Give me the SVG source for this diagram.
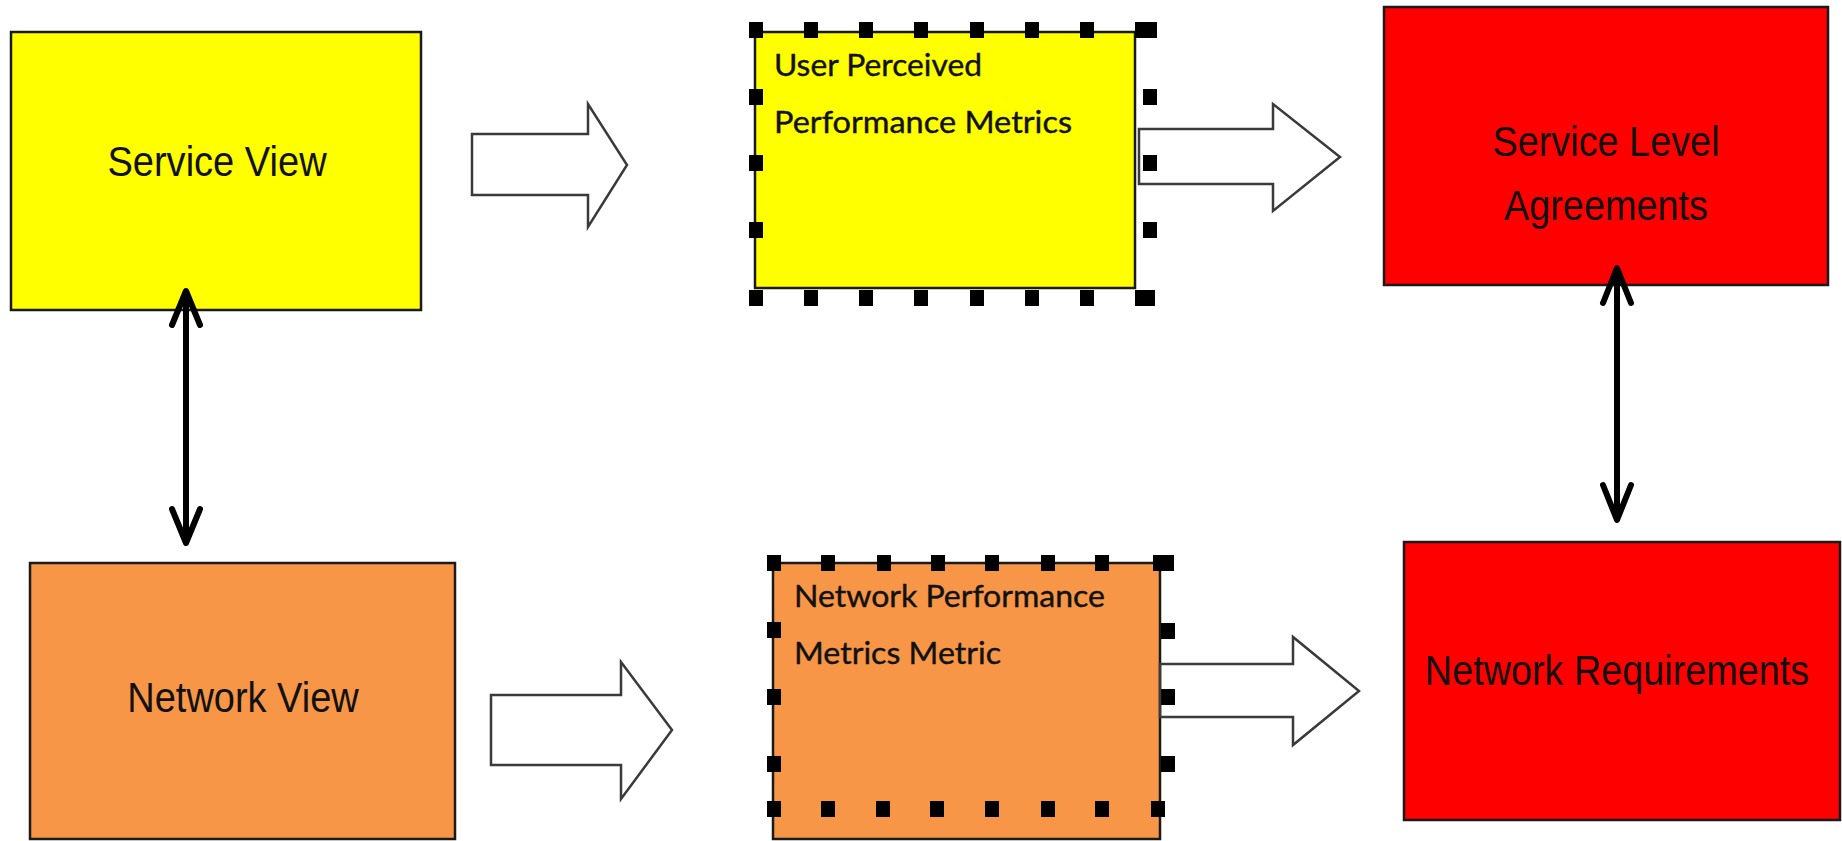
<svg xmlns="http://www.w3.org/2000/svg" width="1842" height="841" viewBox="0 0 1842 841">
  <style>
    .box { stroke: #1a1a1a; stroke-width: 2.5; }
    .yellow { fill: #ffff00; }
    .orange { fill: #f79646; }
    .red { fill: #ff0000; }
    .label { font-family: "Liberation Sans", Arial, sans-serif; font-size: 43px; fill: #111; text-anchor: middle; }
    .note { font-family: Lato, "Open Sans", sans-serif; font-size: 31px; fill: #111; stroke: #111; stroke-width: 0.4; }
    .handle { fill: #000; }
    .block { fill: none; stroke: #3a3a3a; stroke-width: 2.5; stroke-linejoin: miter; }
    .link { fill: none; stroke: #000; stroke-width: 6; stroke-linecap: round; stroke-linejoin: round; }
  </style>
  <defs>
    <rect id="h" class="handle" x="-7" y="-8" width="14" height="16"/>
  </defs>
  <rect width="1842" height="841" fill="#fff"/>

  <g id="service-view">
    <rect class="box yellow" x="11" y="32" width="410" height="278"/>
    <text class="label" transform="translate(217,176) scale(0.885,1)">Service View</text>
  </g>

  <g id="user-perceived-metrics">
    <rect class="box yellow" x="755" y="32" width="380" height="256"/>
    <text class="note" x="774" y="76" textLength="208" lengthAdjust="spacingAndGlyphs">User Perceived</text>
    <text class="note" x="774" y="133" textLength="298" lengthAdjust="spacingAndGlyphs">Performance Metrics</text>
    <g id="user-perceived-handles">
      <use href="#h" x="756" y="30"/><use href="#h" x="811" y="30"/><use href="#h" x="866" y="30"/><use href="#h" x="921" y="30"/>
      <use href="#h" x="977" y="30"/><use href="#h" x="1032" y="30"/><use href="#h" x="1087" y="30"/>
      <use href="#h" x="1142" y="30"/><use href="#h" x="1150" y="30"/>
      <use href="#h" x="756" y="97"/><use href="#h" x="756" y="163"/><use href="#h" x="756" y="230"/>
      <use href="#h" x="1150" y="97"/><use href="#h" x="1150" y="163"/><use href="#h" x="1150" y="230"/>
      <use href="#h" x="756" y="298"/><use href="#h" x="811" y="298"/><use href="#h" x="866" y="298"/><use href="#h" x="921" y="298"/>
      <use href="#h" x="977" y="298"/><use href="#h" x="1032" y="298"/><use href="#h" x="1087" y="298"/>
      <use href="#h" x="1142" y="298"/><use href="#h" x="1148" y="298"/>
    </g>
  </g>

  <g id="service-level-agreements">
    <rect class="box red" x="1384" y="7" width="444" height="278"/>
    <text class="label" transform="translate(1606,156) scale(0.88,1)">Service Level</text>
    <text class="label" transform="translate(1606,220) scale(0.88,1)">Agreements</text>
  </g>

  <g id="network-view">
    <rect class="box orange" x="30" y="563" width="425" height="276"/>
    <text class="label" transform="translate(243,712) scale(0.883,1)">Network View</text>
  </g>

  <g id="network-performance-metrics">
    <rect class="box orange" x="773" y="563" width="387" height="276"/>
    <text class="note" x="794" y="607" textLength="311" lengthAdjust="spacingAndGlyphs">Network Performance</text>
    <text class="note" x="794" y="664" textLength="207" lengthAdjust="spacingAndGlyphs">Metrics Metric</text>
    <g id="network-performance-handles">
      <use href="#h" x="774" y="563"/><use href="#h" x="828" y="563"/><use href="#h" x="884" y="563"/><use href="#h" x="938" y="563"/>
      <use href="#h" x="992" y="563"/><use href="#h" x="1048" y="563"/><use href="#h" x="1102" y="563"/>
      <use href="#h" x="1160" y="563"/><use href="#h" x="1167" y="563"/>
      <use href="#h" x="774" y="630"/><use href="#h" x="774" y="697"/><use href="#h" x="774" y="764"/>
      <use href="#h" x="1168" y="631"/><use href="#h" x="1168" y="697"/><use href="#h" x="1168" y="764"/>
      <use href="#h" x="774" y="809"/><use href="#h" x="828" y="809"/><use href="#h" x="883" y="809"/><use href="#h" x="937" y="809"/>
      <use href="#h" x="992" y="809"/><use href="#h" x="1048" y="809"/><use href="#h" x="1102" y="809"/><use href="#h" x="1158" y="809"/>
    </g>
  </g>

  <g id="network-requirements">
    <rect class="box red" x="1404" y="542" width="436" height="278"/>
    <text class="label" transform="translate(1617,685) scale(0.879,1)">Network Requirements</text>
  </g>

  <g id="connectors">
    <!-- hollow block arrows -->
    <path class="block" d="M472,134 H588 V104 L627,165 L588,227 V195 H472 Z"/>
    <path class="block" d="M1139,129 H1273 V104 L1340,157 L1273,211 V184 H1139 Z"/>
    <path class="block" d="M491,695 H621 V662 L672,730 L621,799 V765 H491 Z"/>
    <path class="block" d="M1160,664 H1293 V637 L1359,691 L1293,745 V717 H1160 Z"/>
    <!-- two-way links -->
    <path class="link" d="M186,293 V541 M172,325 L186,291 L200,325 M172,509 L186,543 L200,509"/>
    <path class="link" d="M1617,270 V518 M1603,303 L1617,268 L1631,303 M1603,485 L1617,520 L1631,485"/>
  </g>
</svg>
